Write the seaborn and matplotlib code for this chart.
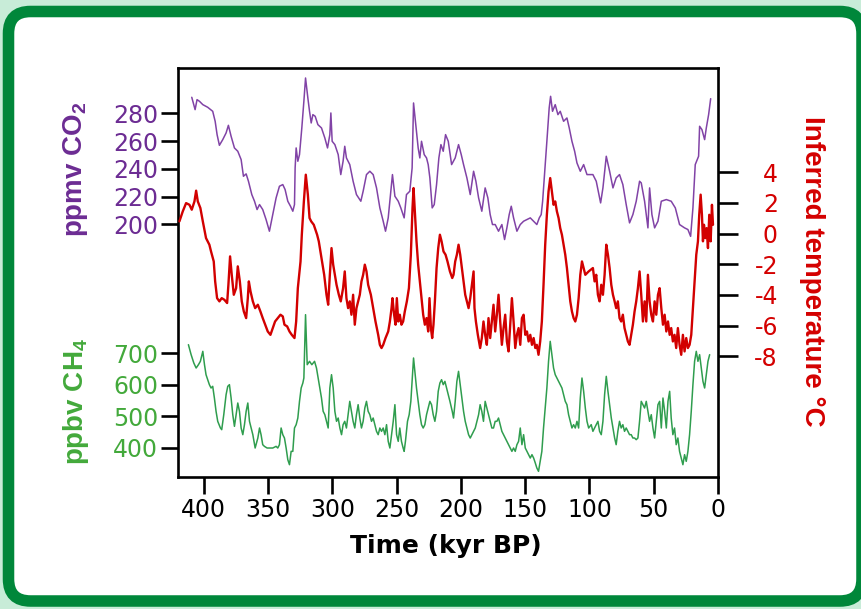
import matplotlib
matplotlib.use("Agg")
import matplotlib.pyplot as plt
import seaborn as sns
from matplotlib.patches import FancyBboxPatch
from matplotlib.transforms import IdentityTransform

# ---------------- data ----------------
age_co2 = [409.3, 406.7, 405.2, 403.3, 400.7, 396.9, 393.0, 391.1, 389.6, 387.8,
           385.2, 382.6, 380.8, 378.7, 376.1, 373.5, 370.9, 369.1, 367.0, 365.2,
           362.6, 360.5, 358.5, 356.6, 354.1, 351.5, 348.9, 346.3, 343.7, 341.1,
           338.5, 336.7, 334.6, 332.5, 330.7, 329.4, 328.9, 328.1, 326.8, 325.5,
           323.7, 322.1, 320.8, 319.0, 317.7, 316.4, 315.1, 313.3, 311.2, 308.4,
           305.8, 303.7, 301.9, 301.1, 300.1, 298.0, 295.4, 293.4, 291.6, 290.3,
           289.0, 286.4, 283.8, 281.2, 277.8, 276.0, 273.4, 270.8, 268.2, 265.6,
           263.0, 260.4, 258.6, 256.5, 254.7, 253.2, 251.3, 248.7, 246.7, 244.1,
           242.3, 239.7, 237.9, 236.8, 235.3, 233.2, 231.9, 230.6, 228.5, 226.7,
           225.4, 224.1, 222.3, 220.7, 218.9, 217.1, 215.5, 213.7, 211.9, 209.8,
           207.2, 204.4, 201.8, 199.7, 197.9, 195.3, 192.7, 190.1, 188.3, 186.2,
           183.7, 181.1, 179.0, 177.2, 175.4, 173.3, 170.7, 168.1, 166.0, 164.2,
           162.4, 160.8, 159.0, 156.4, 153.8, 151.2, 148.6, 146.0, 143.4, 140.9,
           139.0, 137.5, 136.4, 134.9, 133.1, 131.3, 130.2, 128.7, 126.6, 124.5,
           122.7, 120.1, 117.5, 115.7, 113.6, 111.5, 109.7, 107.1, 104.5, 101.9,
           97.3, 94.7, 91.3, 89.5, 86.9, 84.3, 81.7, 79.2, 76.6, 74.0,
           71.4, 68.8, 66.2, 63.6, 61.0, 59.7, 57.1, 54.5, 53.2, 51.4,
           49.3, 46.7, 44.1, 40.2, 36.4, 33.2, 29.9, 26.0, 23.4, 21.3,
           19.5, 17.7, 15.1, 14.3, 12.5, 10.4, 9.1, 7.3, 5.7]
co2_ppmv = [291.5, 282.6, 289.8, 288.6, 286.2, 284.3, 281.4, 274.2, 264.6, 256.9,
            261.0, 265.8, 271.3, 263.4, 255.0, 252.6, 246.6, 234.6, 236.3, 231.0,
            221.4, 216.6, 210.6, 214.2, 210.6, 203.4, 195.0, 207.0, 219.0, 227.4,
            228.6, 225.0, 216.6, 213.0, 209.4, 214.2, 240.6, 255.0, 245.4, 250.2,
            269.4, 288.6, 305.4, 291.0, 281.4, 273.0, 279.0, 277.8, 271.8, 269.4,
            262.2, 255.0, 264.6, 280.2, 259.8, 257.4, 250.2, 235.8, 245.4, 256.2,
            247.8, 243.0, 231.0, 221.4, 216.6, 223.8, 235.8, 238.2, 235.8, 226.2,
            211.8, 202.2, 195.0, 204.6, 221.4, 235.8, 220.2, 216.6, 211.8, 204.6,
            221.4, 223.8, 240.6, 287.4, 274.2, 255.0, 247.8, 259.8, 250.2, 247.8,
            243.0, 233.4, 211.8, 214.2, 228.6, 247.8, 257.4, 252.6, 264.6, 259.8,
            243.0, 247.8, 257.4, 250.2, 243.0, 233.4, 221.4, 238.2, 231.0, 219.0,
            209.4, 226.2, 219.0, 207.0, 199.8, 199.8, 195.0, 199.8, 189.0, 197.4,
            207.0, 213.0, 204.6, 195.0, 199.8, 202.2, 203.4, 204.6, 202.2, 199.8,
            204.6, 207.0, 216.6, 235.8, 259.8, 283.8, 292.2, 281.4, 286.2, 279.0,
            281.4, 274.2, 276.6, 269.4, 259.8, 252.6, 244.2, 238.2, 243.0, 235.8,
            235.8, 231.0, 215.4, 226.2, 249.0, 238.2, 226.2, 233.4, 235.8, 228.6,
            214.2, 201.0, 207.0, 216.6, 231.0, 229.8, 216.6, 197.4, 226.2, 207.0,
            197.4, 202.2, 216.6, 217.8, 216.6, 211.8, 199.8, 197.4, 196.2, 191.3,
            211.8, 243.0, 249.0, 270.6, 268.2, 261.0, 269.4, 279.0, 290.5]

age_temp = [418.9, 416.3, 413.7, 411.1, 409.3, 407.2, 405.9, 404.6, 402.6, 400.7,
            398.2, 395.6, 394.3, 392.2, 391.1, 389.6, 387.8, 386.0, 383.9, 381.8,
            380.8, 379.5, 378.2, 376.6, 374.8, 373.5, 371.9, 370.4, 368.8, 367.0,
            365.7, 364.9, 363.6, 361.8, 360.0, 357.9, 355.9, 354.1, 352.2, 350.2,
            348.1, 346.3, 344.5, 342.4, 340.3, 338.5, 337.2, 335.1, 333.3, 331.5,
            329.4, 328.1, 326.8, 324.7, 323.7, 322.1, 320.6, 319.0, 317.7, 316.4,
            314.4, 311.8,
            310.5, 308.4, 306.3, 304.5, 303.2, 301.9, 300.6, 299.3, 298.0, 296.7,
            294.9, 293.4, 291.6, 290.3, 289.0, 287.7, 286.4, 285.1, 283.8, 282.5,
            281.2, 279.9, 278.6, 277.3, 276.0, 274.7, 273.4, 272.1, 270.0, 268.2,
            266.4, 264.3, 263.0, 261.7, 260.4, 258.6, 256.5, 255.2, 253.9, 253.2,
            251.9, 250.8, 249.8, 248.7, 247.5, 246.2, 244.9, 243.6, 242.0, 240.4,
            238.9, 237.6, 236.8, 235.8, 234.5, 233.2, 231.9, 230.6, 229.3, 228.0,
            226.7, 225.4, 224.4, 223.3, 222.3, 221.3, 220.2, 218.9, 217.6, 216.3,
            215.0, 213.5, 211.9, 210.4, 208.5, 206.7,
            205.7, 204.4, 203.1, 201.8, 200.5, 199.2, 197.9, 196.6, 195.3, 194.0,
            192.7, 191.4, 190.1, 189.4, 188.3, 186.8, 185.0, 183.7, 182.4, 181.1,
            179.8, 178.5, 177.2, 175.9, 174.6, 173.3, 172.0, 170.7, 169.4, 168.1,
            166.8, 165.5, 164.2, 162.9, 161.6, 160.3, 159.0, 157.7, 156.4, 155.1,
            153.8, 152.5, 151.2, 149.9, 148.6, 147.3, 146.0, 144.7, 143.4, 142.1,
            140.9, 139.6, 138.3, 137.0, 135.7, 134.4, 133.1, 131.8, 130.5, 129.2,
            127.9, 126.6, 125.3, 124.0, 122.7, 121.4, 120.1, 118.8, 117.5, 116.2,
            114.9, 113.6, 112.3, 111.0, 109.7, 108.4, 107.1, 105.8, 104.5, 103.2,
            100.6,
            97.3, 96.0, 94.7, 93.4, 92.1, 90.8, 89.5, 88.2, 86.9, 85.6,
            84.3, 83.0, 81.7, 80.4, 79.2, 77.9, 76.6, 75.3, 74.0, 72.7,
            71.4, 70.1, 68.8, 67.5, 66.2, 64.9, 63.6, 62.3, 61.0, 59.7,
            58.4, 57.1, 55.8, 54.5, 53.2, 51.9, 50.6, 49.3, 48.0, 46.7,
            45.4, 44.1, 42.8, 41.5, 40.2, 38.9, 37.6, 36.4, 35.1, 33.8,
            32.5, 31.2, 29.9, 28.6, 27.3, 26.0, 24.7, 23.4, 22.1, 20.8,
            19.5, 18.2, 16.9, 15.6, 14.6, 13.5, 12.5, 11.7, 10.9, 9.9,
            8.9, 7.8, 6.8, 5.7, 4.7, 3.9]
temp_c = [0.79, 1.44, 1.98, 1.87, 1.55, 2.09, 2.79, 2.09, 1.66, 0.79,
          -0.30, -0.73, -1.17, -1.82, -3.12, -4.21, -4.42, -4.21, -4.32, -4.53,
          -3.34, -1.49, -2.69, -3.99, -3.56, -2.14, -3.12, -4.42, -5.08, -5.51,
          -4.21, -3.12, -3.77, -4.42, -4.86, -4.64, -5.08, -5.51, -5.94, -6.38,
          -6.60, -6.16, -5.73, -5.51, -5.29, -5.40, -5.94, -6.05, -6.38, -6.60,
          -6.81, -5.73, -3.56, -1.82, -0.08, 2.09, 3.83, 2.53, 1.01, 0.79,
          0.57, -0.08,
          -0.51, -1.60, -2.69, -3.99, -4.64, -2.69, -0.95, -2.03, -2.69, -3.34,
          -3.99, -4.42, -3.56, -2.47, -4.21, -4.86, -4.42, -5.29, -3.99, -5.94,
          -4.86, -4.42, -3.99, -3.12, -2.69, -2.03, -2.47, -3.34, -3.99, -4.86,
          -5.73, -6.60, -7.25, -7.46, -7.25, -6.81, -6.38, -5.73, -4.86, -4.21,
          -5.29, -5.94, -4.21, -5.73, -5.29, -5.94, -5.73, -5.08, -4.42, -3.56,
          -1.38, 1.66, 2.96, 1.44, -0.51, -2.03, -3.12, -4.21, -5.29, -5.94,
          -5.51, -6.38, -4.21, -6.16, -6.81, -5.94, -4.42, -2.25, -0.95, -0.08,
          -0.51, -1.17, -1.38, -1.82, -2.47, -2.90,
          -2.69, -1.82, -1.38, -0.73, -1.38, -2.25, -3.12, -3.99, -4.42, -4.86,
          -4.21, -3.34, -2.47, -4.86, -5.73, -6.60, -7.46, -6.81, -5.73, -6.60,
          -7.25, -5.51, -6.81, -5.73, -4.64, -6.38, -5.29, -3.99, -5.73, -7.25,
          -6.16, -5.29, -7.03, -7.68, -5.94, -4.21, -5.73, -7.46, -6.60, -6.16,
          -7.25, -5.51, -5.29, -6.60, -6.38, -7.03, -6.60, -7.25, -6.81, -7.46,
          -7.25, -7.90, -7.03, -5.73, -3.34, -0.73, 1.22, 2.74, 3.61, 2.74,
          1.87, 2.09, 1.44, 1.01, 0.35, -0.08, -0.73, -1.38, -2.25, -3.34,
          -4.42, -5.08, -5.51, -5.73, -5.29, -4.21, -2.69, -1.82, -2.25, -2.69,
          -2.47,
          -2.25, -3.12, -2.69, -3.99, -4.42, -3.34, -3.99, -2.69, -0.73, -1.38,
          -2.25, -3.34, -3.99, -4.42, -4.86, -4.42, -5.51, -5.73, -5.29, -6.16,
          -6.60, -7.03, -7.25, -6.60, -5.94, -5.08, -4.42, -3.56, -2.47, -3.99,
          -5.73, -4.42, -5.73, -2.69, -4.42, -5.29, -5.73, -4.42, -5.29, -3.99,
          -3.56, -4.86, -5.94, -5.29, -6.38, -5.73, -6.60, -6.16, -7.03, -6.60,
          -7.46, -6.16, -7.25, -7.90, -6.60, -7.68, -6.81, -7.46, -7.25, -6.60,
          -4.86, -3.12, -1.38, -0.51, 1.22, 2.53, 1.22, -0.51, 0.57, -0.30,
          0.35, -0.95, 1.22, -0.51, 1.87, 0.57]

age_ch4 = [411.9, 409.8, 407.7, 405.9, 404.1, 402.6, 400.7, 399.4, 398.2, 396.9,
           395.6, 394.3, 393.0, 391.7, 390.4, 389.1, 387.0, 386.0, 384.4, 382.6,
           381.3, 380.0, 378.7, 377.4, 376.1, 374.8, 373.5, 372.2, 370.9, 369.6,
           368.3, 367.0, 365.7, 364.4, 363.1, 361.8, 360.0, 357.9, 356.6, 355.4,
           354.1, 352.8, 350.7, 348.9, 346.3, 343.7, 342.4, 341.1, 339.8, 338.5,
           337.2, 335.9, 334.6, 333.3, 332.0, 330.7, 329.4, 328.1, 326.8, 325.5,
           324.2, 322.9, 322.1, 320.8, 319.5, 317.7, 315.9, 313.8,
           312.3, 311.0, 309.7, 308.4, 307.1, 305.8, 304.5, 303.2, 301.9, 300.6,
           299.3, 298.0, 296.7, 295.4, 294.1, 292.8, 291.6, 290.3, 289.0, 287.7,
           286.4, 285.1, 283.8, 282.5, 281.2, 279.9, 278.6, 277.3, 276.0, 274.7,
           273.4, 272.1, 270.8, 269.5, 268.2, 266.9, 265.6, 264.3, 263.0, 261.7,
           260.4, 259.1, 257.8, 256.5, 255.2, 253.9, 252.6, 251.3, 250.0, 248.7,
           247.5, 246.2, 244.9, 244.1, 243.1, 241.5, 240.2, 238.9, 237.9, 236.8,
           235.8, 234.5, 233.2, 231.9, 230.6, 229.3, 228.0, 226.7, 225.4, 224.1,
           222.8, 221.5, 220.2, 218.9, 217.6, 216.3, 215.0, 213.7, 212.4, 211.1,
           209.8, 208.5, 206.7,
           205.7, 204.4, 203.1, 201.8, 200.5, 199.2, 197.9, 196.6, 195.3, 194.0,
           192.7, 191.4, 190.1, 188.8, 187.5, 186.2, 185.0, 183.7, 182.4, 181.1,
           179.8, 178.5, 177.2, 175.9, 174.6, 173.3, 172.0, 170.7, 169.4, 168.1,
           166.8, 165.5, 164.2, 162.9, 161.6, 160.3, 159.0, 157.7, 156.4, 155.1,
           153.8, 152.5, 151.2, 149.9, 148.6, 147.3, 146.0, 144.7, 143.4, 142.1,
           140.9, 139.6, 138.3, 137.0, 135.7, 134.4, 133.1, 131.8, 130.5, 129.2,
           127.9, 126.6, 125.3, 124.0, 122.7, 121.4, 120.1, 118.8, 117.5, 116.2,
           114.9, 113.6, 112.3, 111.0, 109.7, 108.4, 107.1, 105.8, 104.5, 103.2,
           101.9, 100.6,
           98.6, 97.3, 96.0, 94.7, 93.4, 92.1, 90.8, 89.5, 88.2, 86.9,
           85.6, 84.3, 83.0, 81.7, 80.4, 79.2, 77.9, 76.6, 75.3, 74.0,
           72.7, 71.4, 70.1, 68.8, 67.5, 66.2, 64.9, 63.6, 62.3, 61.0,
           59.7, 58.4, 57.1, 55.8, 54.5, 53.2, 51.9, 50.6, 49.3, 48.0,
           46.7, 45.4, 44.1, 42.8, 41.5, 40.2, 38.9, 37.6, 36.4, 35.1,
           33.8, 32.5, 31.2, 29.9, 28.6, 27.3, 26.0, 24.7, 23.4, 22.1,
           20.8, 19.5, 18.2, 16.9, 15.6, 14.3, 13.0, 11.7, 10.4, 9.1,
           7.8, 6.5]
ch4_ppbv = [727.5, 695.7, 669.2, 653.3, 663.9, 674.5, 706.3, 663.9, 632.1, 616.2,
            600.4, 589.8, 595.1, 558.0, 515.6, 483.9, 462.7, 457.4, 505.0, 568.6,
            595.1, 600.4, 558.0, 505.0, 468.0, 505.0, 542.1, 515.6, 462.7, 441.5,
            473.3, 515.6, 542.1, 483.9, 462.7, 441.5, 399.1, 430.9, 462.7, 441.5,
            409.7, 404.4, 399.1, 399.1, 399.1, 404.4, 399.1, 409.7, 462.7, 441.5,
            430.9, 399.1, 362.0, 346.1, 388.5, 388.5, 462.7, 473.3, 494.4, 547.4,
            589.8, 605.6, 621.5, 822.8, 663.9, 674.5, 663.9, 674.5,
            653.3, 621.5, 589.8, 558.0, 515.6, 505.0, 483.9, 462.7, 589.8, 632.1,
            589.8, 515.6, 483.9, 494.4, 462.7, 441.5, 473.3, 483.9, 462.7, 505.0,
            547.4, 515.6, 483.9, 462.7, 505.0, 536.8, 494.4, 462.7, 483.9, 526.2,
            547.4, 515.6, 505.0, 483.9, 494.4, 473.3, 452.1, 441.5, 462.7, 452.1,
            462.7, 441.5, 473.3, 420.3, 399.1, 441.5, 483.9, 536.8, 441.5, 420.3,
            462.7, 420.3, 399.1, 388.5, 420.3, 483.9, 505.0, 547.4, 610.9, 685.1,
            642.7, 589.8, 547.4, 505.0, 473.3, 462.7, 473.3, 505.0, 526.2, 547.4,
            536.8, 505.0, 483.9, 515.6, 579.2, 605.6, 616.2, 600.4, 610.9, 589.8,
            568.6, 547.4, 515.6,
            494.4, 547.4, 610.9, 642.7, 600.4, 558.0, 515.6, 483.9, 462.7, 441.5,
            430.9, 441.5, 452.1, 462.7, 483.9, 505.0, 536.8, 515.6, 483.9, 547.4,
            526.2, 505.0, 483.9, 462.7, 462.7, 483.9, 483.9, 494.4, 473.3, 452.1,
            441.5, 430.9, 420.3, 409.7, 399.1, 388.5, 399.1, 388.5, 409.7, 420.3,
            462.7, 409.7, 441.5, 399.1, 388.5, 377.9, 367.3, 377.9, 367.3, 351.4,
            335.6, 325.0, 356.7, 388.5, 462.7, 526.2, 589.8, 674.5, 738.1, 695.7,
            653.3, 632.1, 621.5, 610.9, 600.4, 589.8, 568.6, 547.4, 536.8, 505.0,
            483.9, 462.7, 473.3, 462.7, 483.9, 462.7, 558.0, 621.5, 579.2, 526.2,
            483.9, 462.7,
            473.3, 452.1, 462.7, 473.3, 483.9, 452.1, 441.5, 483.9, 568.6, 626.8,
            579.2, 536.8, 494.4, 462.7, 430.9, 409.7, 452.1, 483.9, 462.7, 473.3,
            452.1, 462.7, 452.1, 441.5, 441.5, 430.9, 430.9, 425.6, 430.9, 483.9,
            547.4, 536.8, 526.2, 547.4, 515.6, 483.9, 505.0, 462.7, 430.9, 483.9,
            536.8, 547.4, 462.7, 558.0, 515.6, 462.7, 547.4, 579.2, 494.4, 441.5,
            462.7, 409.7, 430.9, 388.5, 367.3, 346.1, 377.9, 356.7, 388.5, 441.5,
            515.6, 600.4, 674.5, 706.3, 674.5, 695.7, 653.3, 610.9, 589.8, 632.1,
            674.5, 695.7]

time_ticks = [400, 350, 300, 250, 200, 150, 100, 50, 0]
co2_ticks = [200, 220, 240, 260, 280]
ch4_ticks = [400, 500, 600, 700]
temp_ticks = [4, 2, 0, -2, -4, -6, -8]
temp_tick_labels = ["4", "2", "0", "-2", "-4", "-6", "-8"]

# ---------------- style ----------------
CO2_LINE, CO2_TEXT = "#8143a6", "#6c2c93"
T_LINE, T_TEXT = "#d20000", "#d40000"
CH4_LINE, CH4_TEXT = "#2f9d4e", "#43a93b"
BORDER = "#00873a"
OUTER = "#c8ecd8"

sns.set_theme(style="white")
plt.rcParams['font.family'] = ['DejaVu Sans']
plt.rcParams['mathtext.default'] = 'regular'

W, H = 861, 609
fig = plt.figure(figsize=(W / 100, H / 100), dpi=100)
fig.patch.set_facecolor(OUTER)

frame = FancyBboxPatch((8.5, 8), 853.5, 589.5,
                       boxstyle="round,pad=0,rounding_size=22",
                       transform=IdentityTransform(), facecolor="white",
                       edgecolor=BORDER, linewidth=8.3, zorder=-5)
fig.add_artist(frame)

ax = fig.add_axes([178 / W, (H - 477) / H, 540 / W, 409 / H])
ax.set_facecolor("none")
ax_t = ax.twinx()
ax_m = ax.twinx()

sns.lineplot(x=age_co2, y=co2_ppmv, ax=ax, color=CO2_LINE, linewidth=1.1,
             sort=False, estimator=None)
sns.lineplot(x=age_temp, y=temp_c, ax=ax_t, color=T_LINE, linewidth=1.7,
             sort=False, estimator=None)
sns.lineplot(x=age_ch4, y=ch4_ppbv, ax=ax_m, color=CH4_LINE, linewidth=1.1,
             sort=False, estimator=None)

ax.set_xlim(420, 0)
ax.set_ylim(17.9, 312.6)
ax_t.set_ylim(-15.86, 10.78)
ax_m.set_ylim(307, 1606.6)

for a in (ax, ax_t, ax_m):
    a.set_xlabel("")
    a.set_ylabel("")
    a.grid(False)

for s in ax.spines.values():
    s.set_visible(True)
    s.set_color("black")
    s.set_linewidth(1.9)
for a in (ax_t, ax_m):
    for s in a.spines.values():
        s.set_visible(False)

# x axis
ax.set_xticks(time_ticks)
ax.set_xticklabels([str(v) for v in time_ticks])
ax.tick_params(axis="x", bottom=True, top=False, direction="out", length=12,
               width=1.9, color="black", labelsize=17, pad=3, labelcolor="black")

# CO2 (left)
ax.yaxis.tick_left()
ax.set_yticks(co2_ticks)
ax.set_yticklabels([str(v) for v in co2_ticks])
ax.tick_params(axis="y", left=True, right=False, direction="out", length=12,
               width=1.9, color="black", labelsize=17, pad=2.4, labelcolor=CO2_TEXT)

# CH4 (left)
ax_m.yaxis.tick_left()
ax_m.set_yticks(ch4_ticks)
ax_m.set_yticklabels([str(v) for v in ch4_ticks])
ax_m.tick_params(axis="y", left=True, right=False, labelleft=True, labelright=False,
                 direction="out", length=12, width=1.9, color="black",
                 labelsize=17, pad=2.4, labelcolor=CH4_TEXT)

# temperature (right)
ax_t.yaxis.tick_right()
ax_t.set_yticks(temp_ticks)
ax_t.set_yticklabels(temp_tick_labels)
ax_t.tick_params(axis="y", left=False, right=True, labelleft=False, labelright=True,
                 direction="out", length=14.4, width=1.9, color="black",
                 labelsize=17, pad=28.8, labelcolor=T_TEXT)
for lab in ax_t.get_yticklabels():
    lab.set_horizontalalignment("right")

# axis titles
fig.text(75 / W, (H - 169) / H, r"ppmv CO$_{2}$", rotation=90, ha="center",
         va="center", color=CO2_TEXT, fontsize=20, fontweight="bold",
         family=["Liberation Sans", "DejaVu Sans"])
fig.text(76 / W, (H - 401) / H, r"ppbv CH$_{4}$", rotation=90, ha="center",
         va="center", color=CH4_TEXT, fontsize=20, fontweight="bold",
         family=["Liberation Sans", "DejaVu Sans"])
fig.text(812 / W, (H - 271) / H, "Inferred temperature °C", rotation=270,
         ha="center", va="center", color=T_TEXT, fontsize=20, fontweight="bold",
         family=["Liberation Sans", "DejaVu Sans"])
fig.text(446 / W, (H - 546) / H, "Time (kyr BP)", ha="center", va="center",
         color="black", fontsize=18, fontweight="bold")

fig.savefig("out.png", dpi=100, facecolor=fig.get_facecolor())
